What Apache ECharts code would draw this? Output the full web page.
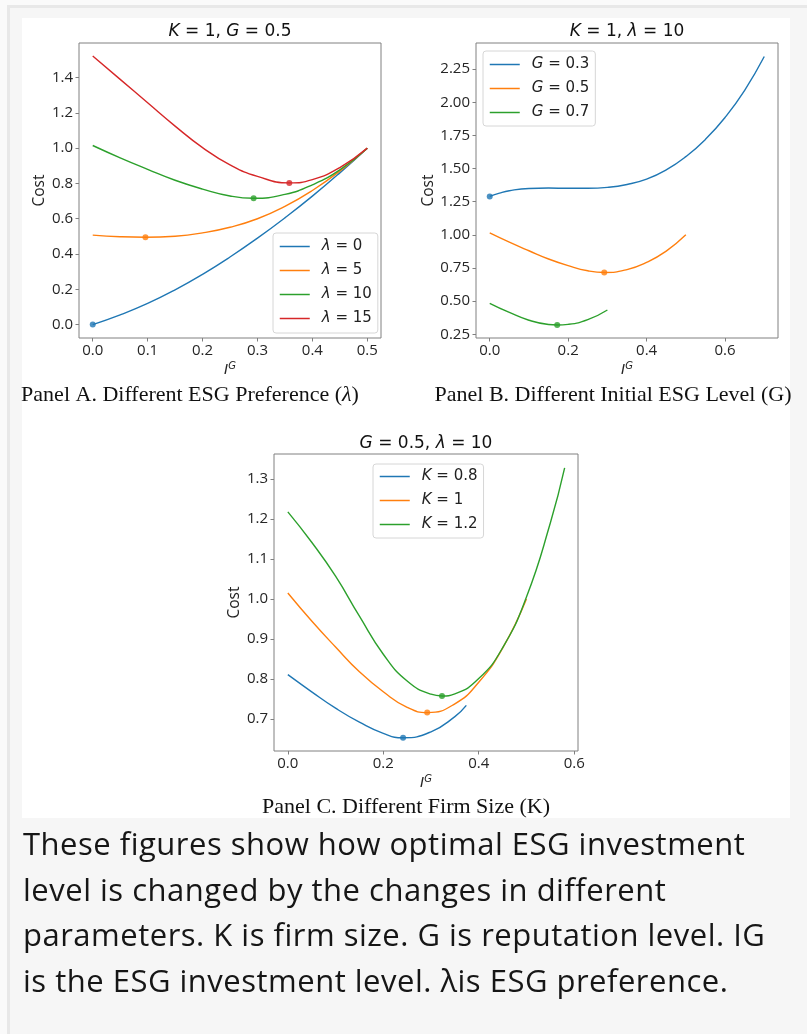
<!DOCTYPE html>
<html><head><meta charset="utf-8">
<script src="https://cdn.jsdelivr.net/npm/echarts@6/dist/echarts.min.js"></script>
<style>
html,body{margin:0;padding:0;width:807px;height:1034px;overflow:hidden;background:#fafafa;}
#frame{position:absolute;left:7px;top:5px;width:810px;height:1040px;background:#f6f6f6;border-left:3px solid #e8e8e8;border-top:3px solid #e8e8e8;box-sizing:border-box;}
#white{position:absolute;left:22px;top:18px;width:768px;height:800px;background:#fff;}
#chart{position:absolute;left:0;top:0;width:807px;height:822px;}
#caption{position:absolute;left:23px;top:821px;white-space:nowrap;font-family:'Open Sans';font-size:31px;letter-spacing:0.5px;line-height:45.6px;color:#161616;}
</style></head>
<body>
<div id="frame"></div>
<div id="white"></div>
<div id="chart"></div>
<div id="caption">These figures show how optimal ESG investment<br>level is changed by the changes in different<br>parameters. K is firm size. G is reputation level. IG<br>is the ESG investment level. λis ESG preference.</div>
<script>
// ---------- Panel A: K = 1, G = 0.5 ----------
const A_x_l0  = [0, 0.05, 0.1, 0.15, 0.2, 0.25, 0.3, 0.35, 0.4, 0.45, 0.5];
const A_lambda0  = [0, 0.055, 0.12, 0.197, 0.285, 0.383, 0.49, 0.605, 0.728, 0.86, 1.0];
const A_x_l5  = [0, 0.05, 0.096, 0.15, 0.2, 0.25, 0.3, 0.35, 0.4, 0.45, 0.5];
const A_lambda5  = [0.507, 0.498, 0.495, 0.501, 0.52, 0.552, 0.6, 0.67, 0.76, 0.87, 1.0];
const A_x_l10 = [0, 0.05, 0.1, 0.15, 0.2, 0.25, 0.293, 0.35, 0.4, 0.45, 0.5];
const A_lambda10 = [1.015, 0.945, 0.88, 0.818, 0.768, 0.729, 0.716, 0.738, 0.792, 0.877, 1.0];
const A_x_l15 = [0, 0.05, 0.1, 0.15, 0.2, 0.25, 0.3, 0.358, 0.4, 0.45, 0.5];
const A_lambda15 = [1.522, 1.39, 1.257, 1.125, 1.003, 0.905, 0.84, 0.803, 0.822, 0.89, 1.0];
const A_min_x = [0, 0.096, 0.293, 0.358];
const A_min_y = [0, 0.495, 0.716, 0.803];
const A_names = ['λ = 0', 'λ = 5', 'λ = 10', 'λ = 15'];
const A_xTicks = [0, 0.1, 0.2, 0.3, 0.4, 0.5];
const A_yTicks = [0, 0.2, 0.4, 0.6, 0.8, 1.0, 1.2, 1.4];

// ---------- Panel B: K = 1, lambda = 10 ----------
const B_x_G03 = [0, 0.025, 0.05, 0.1, 0.15, 0.2, 0.25, 0.3, 0.35, 0.4, 0.45, 0.5, 0.55, 0.6, 0.65, 0.7];
const B_G03   = [1.29, 1.315, 1.333, 1.35, 1.353, 1.351, 1.351, 1.358, 1.38, 1.42, 1.49, 1.59, 1.72, 1.885, 2.09, 2.345];
const B_x_G05 = [0, 0.05, 0.1, 0.15, 0.2, 0.25, 0.293, 0.35, 0.4, 0.45, 0.5];
const B_G05   = [1.015, 0.945, 0.88, 0.818, 0.768, 0.729, 0.716, 0.738, 0.792, 0.877, 1.0];
const B_x_G07 = [0, 0.05, 0.1, 0.15, 0.172, 0.2, 0.25, 0.3];
const B_G07   = [0.484, 0.415, 0.356, 0.3235, 0.32, 0.325, 0.36, 0.433];
const B_min_x = [0, 0.292, 0.172];
const B_min_y = [1.29, 0.716, 0.32];
const B_names = ['G = 0.3', 'G = 0.5', 'G = 0.7'];
const B_xTicks = [0, 0.2, 0.4, 0.6];
const B_yTicks = [0.25, 0.5, 0.75, 1.0, 1.25, 1.5, 1.75, 2.0, 2.25];

// ---------- Panel C: G = 0.5, lambda = 10 ----------
const C_x_K08 = [0, 0.05, 0.1, 0.15, 0.2, 0.2415, 0.3, 0.35, 0.374];
const C_K08   = [0.811, 0.768, 0.727, 0.692, 0.664, 0.653, 0.668, 0.706, 0.734];
const C_x_K1  = [0, 0.05, 0.1, 0.15, 0.2, 0.25, 0.293, 0.35, 0.4, 0.45, 0.5];
const C_K1    = [1.015, 0.945, 0.88, 0.818, 0.768, 0.729, 0.716, 0.738, 0.792, 0.877, 1.0];
const C_x_K12 = [0, 0.05, 0.1, 0.15, 0.2, 0.25, 0.3, 0.323, 0.35, 0.4, 0.45, 0.5, 0.55, 0.58];
const C_K12   = [1.218, 1.142, 1.057, 0.957, 0.862, 0.795, 0.762, 0.7576, 0.763, 0.801, 0.878, 1.005, 1.19, 1.328];
const C_min_x = [0.2415, 0.292, 0.323];
const C_min_y = [0.653, 0.716, 0.7576];
const C_names = ['K = 0.8', 'K = 1', 'K = 1.2'];
const C_xTicks = [0, 0.2, 0.4, 0.6];
const C_yTicks = [0.7, 0.8, 0.9, 1.0, 1.1, 1.2, 1.3];

const COLORS = ['#1f77b4', '#ff7f0e', '#2ca02c', '#d62728'];

function zip(xs, ys) { return xs.map((x, i) => [x, ys[i]]); }

const tickFont = { fontFamily: 'Open Sans', fontSize: 15, color: '#262626' };

function xAx(grid, min, max, ticks, dec) {
  return {
    type: 'value', gridIndex: grid, min: min, max: max,
    axisLine: { show: false, onZero: false },
    splitLine: { show: false },
    axisTick: { show: true, length: 3.5, lineStyle: { color: '#808080', width: 1 }, customValues: ticks },
    axisLabel: Object.assign({ customValues: ticks, margin: 5, formatter: v => v.toFixed(dec) }, tickFont),
    name: '{i|I}{s|G}', nameLocation: 'middle', nameGap: 23,
    nameTextStyle: { lineHeight: 16, rich: {
      i: { fontFamily: 'DejaVu Sans', fontStyle: 'italic', fontSize: 14, color: '#222', verticalAlign: 'bottom', lineHeight: 16 },
      s: { fontFamily: 'DejaVu Sans', fontStyle: 'italic', fontSize: 10, color: '#222', verticalAlign: 'top', lineHeight: 16 }
    } }
  };
}
function yAx(grid, min, max, ticks, dec, gap) {
  return {
    type: 'value', gridIndex: grid, min: min, max: max,
    axisLine: { show: false, onZero: false },
    splitLine: { show: false },
    axisTick: { show: true, length: 3.5, lineStyle: { color: '#808080', width: 1 }, customValues: ticks },
    axisLabel: Object.assign({ customValues: ticks, margin: 6, formatter: v => v.toFixed(dec) }, tickFont),
    name: 'Cost', nameLocation: 'middle', nameGap: gap, nameRotate: 90,
    nameTextStyle: { fontFamily: 'Open Sans', fontSize: 15.5, color: '#222' }
  };
}

const series = [];
function addPanel(grid, xsList, ysList, names, minX, minY) {
  names.forEach((n, i) => {
    series.push({
      type: 'line', name: n, xAxisIndex: grid, yAxisIndex: grid,
      data: zip(xsList[i], ysList[i]), smooth: true, symbol: 'none',
      lineStyle: { width: 1.4, color: COLORS[i] }, itemStyle: { color: COLORS[i] },
      z: 2 + i, animation: false
    });
  });
  series.push({
    type: 'scatter', name: 'min' + grid, xAxisIndex: grid, yAxisIndex: grid,
    data: minX.map((x, i) => ({ value: [x, minY[i]], itemStyle: { color: COLORS[i] } })),
    symbolSize: 6, z: 10, animation: false, silent: true
  });
}
addPanel(0, [A_x_l0, A_x_l5, A_x_l10, A_x_l15], [A_lambda0, A_lambda5, A_lambda10, A_lambda15], A_names, A_min_x, A_min_y);
addPanel(1, [B_x_G03, B_x_G05, B_x_G07], [B_G03, B_G05, B_G07], B_names, B_min_x, B_min_y);
addPanel(2, [C_x_K08, C_x_K1, C_x_K12], [C_K08, C_K1, C_K12], C_names, C_min_x, C_min_y);

function legendFmt(name) {
  const p = name.split(' = ');
  return '{i|' + p[0] + '} = ' + p[1];
}
function mkLegend(names, left, top, pad) {
  return {
    data: names, orient: 'vertical', left: left, top: top, padding: pad,
    itemWidth: 30, itemHeight: 14, itemGap: 9,
    backgroundColor: 'rgba(255,255,255,0.85)', borderColor: '#d6d6d6', borderWidth: 1, borderRadius: 3,
    itemStyle: { opacity: 0 }, lineStyle: { width: 1.5 },
    formatter: legendFmt, selectedMode: false,
    textStyle: { fontFamily: 'DejaVu Sans', fontSize: 15, color: '#222', padding: [0, 0, 0, 7],
      rich: { i: { fontFamily: 'DejaVu Sans', fontStyle: 'italic', fontSize: 15, color: '#222' } } }
  };
}

function txt(x, y, text, rich, font) {
  return { type: 'text', x: x, y: y, silent: true,
    style: { text: text, fill: '#111', font: font, align: 'center', verticalAlign: 'middle',
      textAlign: 'center', textVerticalAlign: 'middle', rich: rich } };
}
const mathRich = { i: { fontFamily: 'DejaVu Sans', fontStyle: 'italic', fontSize: 17, color: '#111' },
                   n: { fontFamily: 'DejaVu Sans', fontSize: 17, color: '#111' } };
const serifRich = { n: { fontFamily: 'Liberation Serif', fontSize: 22, color: '#111' },
                    i: { fontFamily: 'Liberation Serif', fontStyle: 'italic', fontSize: 22, color: '#111' } };

const chart = echarts.init(document.getElementById('chart'), null, { renderer: 'canvas' });
chart.setOption({
  animation: false,
  backgroundColor: 'transparent',
  grid: [
    { left: 79, top: 43, width: 302, height: 295, show: true, borderColor: '#808080', borderWidth: 1, outerBoundsMode: 'none' },
    { left: 476, top: 43, width: 302, height: 295, show: true, borderColor: '#808080', borderWidth: 1, outerBoundsMode: 'none' },
    { left: 274, top: 454, width: 304, height: 297, show: true, borderColor: '#808080', borderWidth: 1, outerBoundsMode: 'none' }
  ],
  xAxis: [
    xAx(0, -0.025, 0.525, A_xTicks, 1),
    xAx(1, -0.035, 0.735, B_xTicks, 1),
    xAx(2, -0.029, 0.608, C_xTicks, 1)
  ],
  yAxis: [
    yAx(0, -0.076, 1.596, A_yTicks, 1, 26),
    yAx(1, 0.222, 2.447, B_yTicks, 2, 35),
    yAx(2, 0.62, 1.3626, C_yTicks, 1, 26)
  ],
  legend: [
    mkLegend(A_names, 273, 233, [6, 6, 7, 6]),
    mkLegend(B_names, 483, 51, [6, 6, 6, 6]),
    mkLegend(C_names, 373, 464, [5, 6, 6, 6])
  ],
  graphic: [
    txt(230, 32, '{i|K}{n| = 1, }{i|G}{n| = 0.5}', mathRich, '17px DejaVu Sans'),
    txt(627, 32, '{i|K}{n| = 1, }{i|λ}{n| = 10}', mathRich, '17px DejaVu Sans'),
    txt(426, 444, '{i|G}{n| = 0.5, }{i|λ}{n| = 10}', mathRich, '17px DejaVu Sans'),
    txt(190, 395, '{n|Panel A. Different ESG Preference (}{i|λ}{n|)}', serifRich, '22px Liberation Serif'),
    txt(613, 395, '{n|Panel B. Different Initial ESG Level (G)}', serifRich, '22px Liberation Serif'),
    txt(406, 807, '{n|Panel C. Different Firm Size (K)}', serifRich, '22px Liberation Serif')
  ],
  series: series
});
</script>
</body></html>
